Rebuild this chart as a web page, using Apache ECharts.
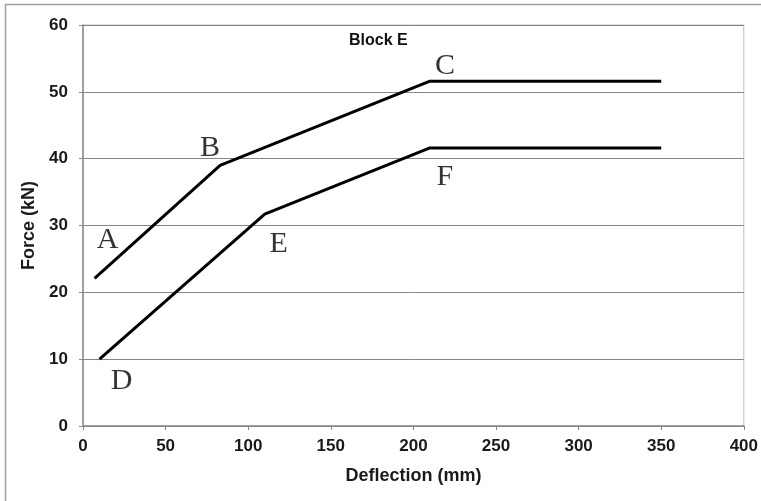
<!DOCTYPE html>
<html><head><meta charset="utf-8">
<script src="https://cdn.jsdelivr.net/npm/echarts@6/dist/echarts.min.js"></script>
<style>html,body{margin:0;padding:0;background:#fff}#c{width:761px;height:501px}</style>
</head><body><div id="c"></div>
<script>
// Data (Deflection mm, Force kN)
const upperX = [7, 83, 210, 350];
const upperY = [22.1, 39.0, 51.6, 51.6];
const lowerX = [10, 110, 210, 350];
const lowerY = [10.0, 31.7, 41.6, 41.6];
// point annotations: letter, line, point index
const pointLetters = ['A', 'B', 'C', 'D', 'E', 'F'];
const pointLine = ['upper', 'upper', 'upper', 'lower', 'lower', 'lower'];
const pointIndex = [0, 1, 2, 0, 1, 2];
const chartTitle = 'Block E';
const xTitle = 'Deflection (mm)';
const yTitle = 'Force (kN)';

// label offsets (style)
const labelOffsets = [[13, -38], [-10, -17], [15, -15], [22, 22], [14, 30], [15, 29]];

const lines = { upper: [upperX, upperY], lower: [lowerX, lowerY] };
const pair = (xs, ys) => xs.map((x, i) => [x, ys[i]]);
const labelData = pointLetters.map((l, i) => {
  const [xs, ys] = lines[pointLine[i]];
  const k = pointIndex[i];
  return { value: [xs[k], ys[k]], name: l, label: { offset: labelOffsets[i] } };
});

const chart = echarts.init(document.getElementById('c'));
const sans = '"Liberation Sans", Arial, sans-serif';
const axisFont = { fontFamily: sans, fontWeight: 'bold', fontSize: 17, color: '#1a1a1a' };
const nameFont = { fontFamily: sans, fontWeight: 'bold', fontSize: 18, color: '#1a1a1a' };
chart.setOption({
  animation: false,
  backgroundColor: '#fff',
  graphic: [{ type: 'rect', shape: { x: 5.5, y: 4.5, width: 800, height: 600 }, style: { fill: 'none', stroke: '#a0a0a0', lineWidth: 1.5 }, z: 0 },
    { type: 'text', left: 349, top: 33, style: { text: chartTitle, font: 'bold 16px "Liberation Sans", Arial', fill: '#111' } }],
  grid: { left: 83, right: 17, top: 25, bottom: 75, show: true, borderColor: '#bdbdbd', borderWidth: 1 },
  xAxis: {
    type: 'value', min: 0, max: 400, interval: 50,
    name: xTitle, nameLocation: 'middle', nameGap: 41,
    nameTextStyle: nameFont,
    axisLine: { lineStyle: { color: '#8a8a8a', width: 1.5 } },
    axisTick: { show: true, length: 4, lineStyle: { color: '#8a8a8a' } },
    axisLabel: Object.assign({ margin: 12 }, axisFont),
    splitLine: { show: false }
  },
  yAxis: {
    type: 'value', min: 0, max: 60, interval: 10,
    name: yTitle, nameLocation: 'middle', nameGap: 40,
    nameTextStyle: nameFont,
    axisLine: { show: true, lineStyle: { color: '#8a8a8a', width: 1.5 } },
    axisTick: { show: true, length: 4, lineStyle: { color: '#8a8a8a' } },
    axisLabel: Object.assign({ margin: 15 }, axisFont),
    splitLine: { show: true, lineStyle: { color: '#858585', width: 1 } }
  },
  series: [
    { type: 'line', data: pair(upperX, upperY), symbol: 'none', lineStyle: { color: '#000', width: 3 }, z: 3 },
    { type: 'line', data: pair(lowerX, lowerY), symbol: 'none', lineStyle: { color: '#000', width: 3 }, z: 3 },
    { type: 'scatter', data: labelData, symbolSize: 0, z: 4,
      label: { show: true, position: 'inside', formatter: p => p.name,
        fontFamily: '"Liberation Serif", "Times New Roman", serif', fontSize: 30, color: '#000' } }
  ]
});
</script></body></html>
